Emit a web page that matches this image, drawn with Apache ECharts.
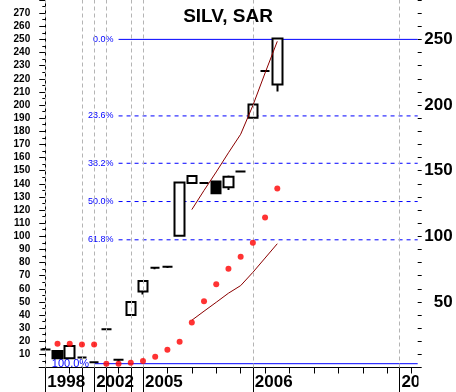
<!DOCTYPE html>
<html><head><meta charset="utf-8">
<script src="https://cdn.jsdelivr.net/npm/echarts@6/dist/echarts.min.js"></script>
<style>html,body{margin:0;padding:0;background:#fff}#c{width:456px;height:392px}</style>
</head><body><div id="c"></div>
<script>
// x slots (31), labels shown only on some year boundaries
const xLabels = ['1998','','','','2002','','','','2005','','','','','','','','','2006','','','','','','','','','','','','2007',''];
const yearTickIdx = [0,3,4,5,7,8,17,29];
const yearLabelIdx = [0,4,8,17,29];
// candles: [open, close, low, high]
const candles = [
  [13.8,13.8,13.2,13.8],
  [12.5,7.0,7.0,12.5],
  [7.0,16.3,7.0,16.3],
  [7.7,7.7,7.7,7.7],
  [4.0,4.0,3.4,4.0],
  [29.2,29.2,29.2,29.2],
  [6.0,6.0,4.6,6.0],
  [40.0,50.0,40.0,50.0],
  [58.0,66.0,55.6,66.0],
  [76.0,76.0,74.8,76.0],
  [76.8,76.8,75.8,76.8],
  [100.4,141.0,100.4,141.0],
  [140.6,146.0,140.6,146.0],
  [140.6,140.6,140.6,140.6],
  [141.8,132.7,132.3,141.8],
  [137.3,145.4,135.3,146.2],
  [149.4,149.4,148.5,149.4],
  [190.2,200.3,190.2,200.3],
  [225.9,225.9,225.9,225.9],
  [215.7,250.6,210.2,250.6]
];
const sar = ['-',18.1,18.1,17.6,17.6,2.9,2.9,3.6,4.9,8.2,13.5,19.6,34.3,50.5,63.4,75.3,84.4,95.0,114.2,136.3];
const trendA = ['-','-','-','-','-','-','-','-','-','-','-','-',120.3,134.9,149.0,163.6,177.7,199.6,224.4,248.5];
const trendB = ['-','-','-','-','-','-','-','-','-','-','-','-',36.0,42.9,49.7,56.6,62.4,72.5,83.4,94.3];
const fibHigh = 250, fibLow = 2.9;
const fibLevels = [0, 0.236, 0.382, 0.5, 0.618, 1];
const fibNames = ['0.0%','23.6%','38.2%','50.0%','61.8%','100.0%'];
const fibStart = [6,6,6,6,6,4];
const fibDashed = [false,true,true,true,true,false];
const fibFont = [9,9,9,9,9,11];

const FONT = 'Liberation Sans, Arial, sans-serif';
const cats = xLabels.map((_, i) => String(i));
const X_END = cats.length - 0.5;

const fibSeries = fibLevels.map((f, k) => {
  const v = fibHigh - f * (fibHigh - fibLow);
  return {
    type: 'line', xAxisIndex: 2, yAxisIndex: 0, silent: true,
    symbol: 'circle', symbolSize: 0, showSymbol: true, z: 1,
    lineStyle: { color: '#0000ff', width: 1, type: fibDashed[k] ? [4,4] : 'solid' },
    data: [
      { value: [fibStart[k], v], label: { show: true, position: 'left', distance: 5,
        formatter: fibNames[k], color: '#0000ff', fontSize: fibFont[k], fontFamily: FONT } },
      [X_END, v]
    ]
  };
});

const option = {
  animation: false,
  backgroundColor: '#fff',
  title: { text: 'SILV, SAR', left: 'center', top: 2,
    textStyle: { fontSize: 19, fontWeight: 'bold', color: '#000', fontFamily: FONT } },
  grid: { left: 39.2, right: 38.3, top: -1.3, bottom: 24.5, containLabel: false },
  xAxis: [
    { type: 'category', data: cats, gridIndex: 0, position: 'bottom',
      axisLine: { show: true, lineStyle: { color: '#000', width: 1 } },
      axisTick: { show: true, alignWithLabel: true, length: 6, lineStyle: { color: '#000' } },
      axisLabel: { show: false }, splitLine: { show: false } },
    { type: 'category', data: cats, gridIndex: 0, position: 'bottom',
      axisLine: { show: false },
      axisTick: { show: true, alignWithLabel: true, length: 25,
        interval: (i) => yearTickIdx.includes(i), lineStyle: { color: '#000', width: 1 } },
      axisLabel: { show: true, interval: (i) => yearLabelIdx.includes(i),
        formatter: (val, i) => xLabels[i], align: 'left', padding: [0,0,0,2], margin: 6,
        fontSize: 17, fontWeight: 'bold', color: '#000', fontFamily: FONT },
      splitLine: { show: false } },
    { type: 'value', gridIndex: 0, min: -0.5, max: X_END, show: false }
  ],
  yAxis: [
    { type: 'value', min: 0, max: 280, interval: 10, position: 'left',
      axisLine: { show: true, lineStyle: { color: '#000', width: 1 } },
      axisTick: { show: true, length: 6, lineStyle: { color: '#000' } },
      minorTick: { show: true, splitNumber: 2, length: 3, lineStyle: { color: '#000' } },
      axisLabel: { showMinLabel: false, showMaxLabel: false, margin: 9,
        fontSize: 10, fontWeight: 'bold', color: '#000', fontFamily: FONT },
      splitLine: { show: false } },
    { type: 'value', min: 0, max: 280, interval: 10, position: 'right',
      axisLine: { show: false },
      axisTick: { show: true, length: 4, lineStyle: { color: '#000' } },
      axisLabel: { formatter: (v) => (v > 0 && v % 50 === 0 && v < 280) ? String(v) : '',
        align: 'right', margin: 35, fontSize: 17, fontWeight: 'bold', color: '#000', fontFamily: FONT },
      splitLine: { show: false } }
  ],
  series: [
    { type: 'line', xAxisIndex: 2, yAxisIndex: 0, data: [], silent: true, z: 0,
      markLine: { silent: true, symbol: ['none','none'], label: { show: false },
        lineStyle: { color: '#b4b4b4', type: [4,3], width: 1 },
        data: yearTickIdx.map(i => ({ xAxis: i })) } },
    ...fibSeries,
    { type: 'candlestick', xAxisIndex: 0, yAxisIndex: 0, data: candles, barWidth: 10, z: 3,
      itemStyle: { color: '#fff', color0: '#000', borderColor: '#000', borderColor0: '#000', borderWidth: 2 } },
    { type: 'line', xAxisIndex: 0, yAxisIndex: 0, data: trendA, showSymbol: false, z: 4,
      lineStyle: { color: '#8b0000', width: 1 } },
    { type: 'line', xAxisIndex: 0, yAxisIndex: 0, data: trendB, showSymbol: false, z: 4,
      lineStyle: { color: '#8b0000', width: 1 } },
    { type: 'scatter', xAxisIndex: 0, yAxisIndex: 0, data: sar, symbol: 'circle', symbolSize: 6, z: 5,
      itemStyle: { color: '#ff0000' } }
  ],
  graphic: [
    { type: 'rect', left: 418.5, top: 369, shape: { width: 40, height: 24 },
      style: { fill: '#fff' }, z: 100, silent: true }
  ]
};
const chart = echarts.init(document.getElementById('c'), null, { renderer: 'canvas' });
chart.setOption(option);
</script></body></html>
